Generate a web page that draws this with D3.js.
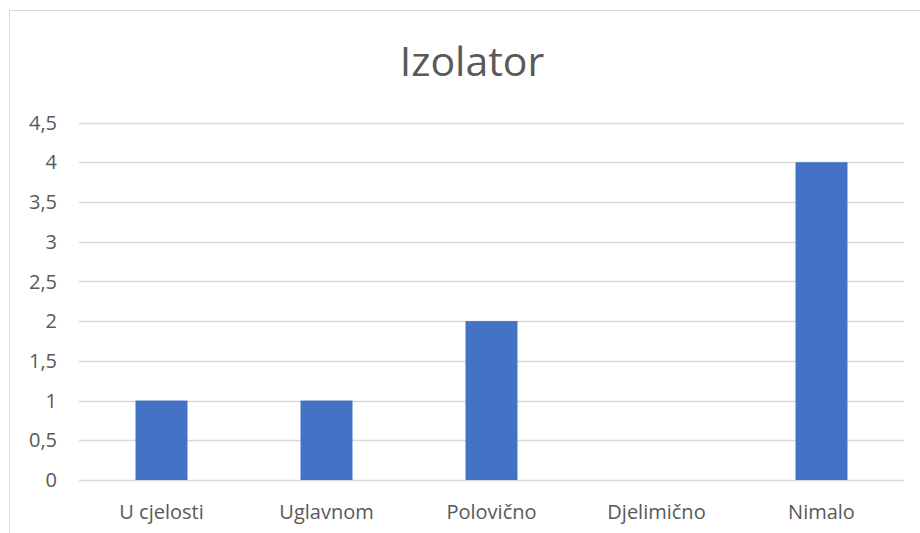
<!DOCTYPE html>
<html>
<head>
<meta charset="utf-8">
<script src="https://cdnjs.cloudflare.com/ajax/libs/d3/7.8.5/d3.min.js"></script>
<style>
  body { margin: 0; background: #fff; }
  text { font-family: "Segoe UI", "Open Sans", sans-serif; fill: #595959; }
</style>
</head>
<body>
<svg id="chart" width="920" height="533"></svg>
<script>
// podaci
var categories = ["U cjelosti", "Uglavnom", "Polovično", "Djelimično", "Nimalo"];
var values = [1, 1, 2, 0, 4];
var yTicks = [0, 0.5, 1, 1.5, 2, 2.5, 3, 3.5, 4, 4.5];
var title = "Izolator";

var svg = d3.select("#chart");

// chart border (right/bottom run off the picture)
svg.append("rect")
  .attr("x", 9.5).attr("y", 10.5)
  .attr("width", 940).attr("height", 540)
  .attr("fill", "#fff")
  .attr("stroke", "#d9d9d9");

var plotLeft = 79, plotRight = 904, plotTop = 122.5, plotBottom = 480;

var x = d3.scaleBand()
  .domain(categories)
  .range([plotLeft, plotRight])
  .paddingInner(0.685)
  .paddingOuter(0.3425);

var y = d3.scaleLinear()
  .domain([0, 4.5])
  .range([plotBottom, plotTop]);

// gridlines
svg.append("g")
  .selectAll("line")
  .data(yTicks)
  .enter()
  .append("line")
  .attr("x1", plotLeft).attr("x2", plotRight)
  .attr("y1", function (d) { return Math.round(y(d)) + 0.5 })
  .attr("y2", function (d) { return Math.round(y(d)) + 0.5 })
  .attr("stroke", "#d9d9d9")
  .attr("stroke-width", 1.3);

// y labels
svg.append("g")
  .selectAll("text")
  .data(yTicks)
  .enter()
  .append("text")
  .attr("x", 57)
  .attr("y", function (d) { return y(d) })
  .attr("dy", "0.36em")
  .attr("text-anchor", "end")
  .style("font-size", "20px")
  .text(function (d) { return String(d).replace(".", ",") });

// bars
svg.append("g")
  .selectAll("rect")
  .data(values)
  .enter()
  .append("rect")
  .attr("x", function (d, i) { return x(categories[i]) })
  .attr("width", x.bandwidth())
  .attr("y", function (d) { return y(d) })
  .attr("height", function (d) { return y(0) - y(d) })
  .attr("fill", "#4472c4");

// x labels
svg.append("g")
  .selectAll("text")
  .data(categories)
  .enter()
  .append("text")
  .attr("x", function (d) { return x(d) + x.bandwidth() / 2 })
  .attr("y", 519)
  .attr("text-anchor", "middle")
  .style("font-size", "20px")
  .text(function (d) { return d });

// title
svg.append("text")
  .attr("x", 472)
  .attr("y", 76)
  .attr("text-anchor", "middle")
  .style("font-size", "41px")
  .text(title);
</script>
</body>
</html>
